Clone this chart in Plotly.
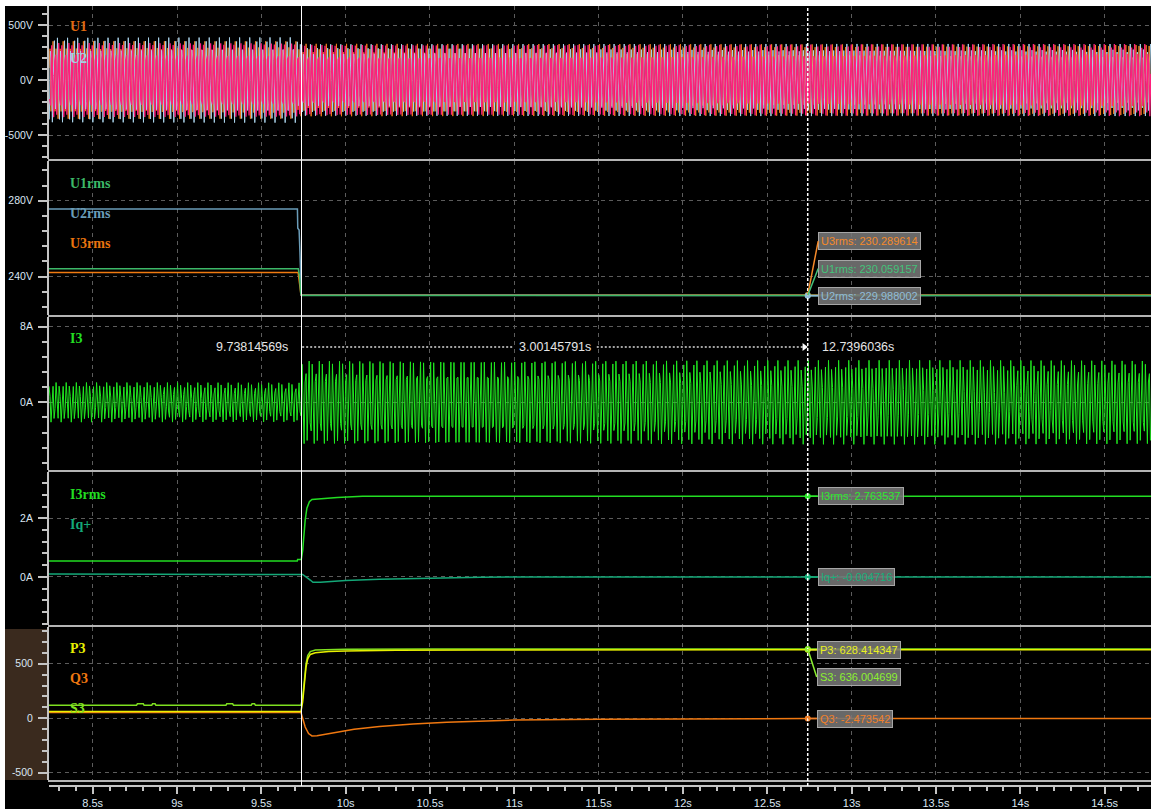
import numpy as np
import plotly.graph_objects as go

W, H = 1151, 809
T_START, T_END = 8.241, 14.775
F_LINE = 50.0

# ---------------- cursors ----------------
cursor_times = [9.73814569, 12.7396036]
cursor_texts = ["9.73814569s", "3.00145791s", "12.7396036s"]

# ---------------- panel 1 : instantaneous voltages ----------------
u_names = ["U1", "U2", "U3"]
u_peak_before = [352.0, 392.0, 345.0]
u_peak_after = [330.0, 328.0, 332.0]
u_step_time = [9.719, 9.714, 9.718]
u_phase = [0.0, -1 / 3, 1 / 3]
u_colors = ["#f07a1e", "#a9d2ea", "#ff1f7c"]

# ---------------- panel 2 : rms voltages ----------------
u3rms_t = [8.241, 9.718, 9.727, 9.735, 14.775]
u3rms_v = [242.2, 242.2, 236.0, 230.3, 230.29]
u2rms_t = [8.241, 9.714, 9.716, 9.724, 9.729, 9.737, 14.775]
u2rms_v = [275.6, 275.6, 265.5, 264.5, 253.0, 230.2, 229.99]
u1rms_t = [8.241, 9.719, 9.726, 9.734, 9.740, 14.775]
u1rms_v = [244.2, 244.2, 240.5, 231.0, 230.06, 230.06]

# ---------------- panel 3 : I3 ----------------
i3_peak_before = 2.1
i3_peak_after = 4.45
i3_step_time = 9.737

# ---------------- panel 4 : I3rms, Iq+ ----------------
i3rms_t = [8.241, 9.713, 9.715, 9.737, 9.745, 9.749, 9.76, 9.77, 9.785, 9.80, 9.85, 9.95, 10.1, 14.775]
i3rms_v = [0.54, 0.54, 0.59, 0.59, 0.90, 1.25, 1.94, 2.35, 2.57, 2.65, 2.68, 2.72, 2.76, 2.76]
iq_t = [8.241, 9.737, 9.745, 9.79, 9.806, 9.85, 9.9, 10.0, 10.2, 10.5, 10.8, 11.0, 14.775]
iq_v = [0.10, 0.10, 0.08, -0.11, -0.19, -0.19, -0.17, -0.13, -0.08, -0.04, -0.015, -0.006, -0.005]

# ---------------- panel 5 : P3, Q3, S3 ----------------
q3_t = [8.241, 9.735, 9.745, 9.76, 9.78, 9.80, 9.83, 9.87, 9.95, 10.05, 10.2, 10.4, 10.6, 10.8, 11.0, 11.5, 12.0, 12.74, 14.775]
q3_v = [52, 52, 0, -80, -140, -162, -160, -148, -125, -100, -75, -52, -36, -24, -16, -8, -4, -2.5, -2]
s3_t = [8.241, 8.76, 8.765, 8.80, 8.805, 8.85, 8.855, 8.87, 8.875, 9.29, 9.295, 9.33, 9.335, 9.44, 9.445,
        9.46, 9.465, 9.735, 9.745, 9.755, 9.765, 9.775, 9.79, 9.82, 9.9, 10.0, 10.5, 12.74, 14.775]
s3_v = [119, 119, 133, 133, 119, 119, 133, 133, 119, 119, 133, 133, 119, 119, 133,
        133, 119, 119, 190, 360, 500, 575, 612, 625, 630, 632, 635, 636, 636]
p3_t = [8.241, 9.735, 9.745, 9.755, 9.765, 9.775, 9.79, 9.82, 9.9, 10.0, 10.3, 10.8, 12.74, 14.775]
p3_v = [62, 62, 150, 330, 470, 545, 585, 600, 612, 618, 624, 627, 628.4, 628]

# ---------------- cursor read-outs ----------------
readout_names = ["U3rms", "U1rms", "U2rms", "I3rms", "Iq+", "P3", "S3", "Q3"]
readout_values = [230.289614, 230.059157, 229.988002, 2.763537, -0.004716, 628.414347, 636.004699, -2.473542]
readout_axes = ["y2", "y2", "y2", "y4", "y4", "y5", "y5", "y5"]
readout_colors = ["#f58a2a", "#44c27a", "#8fbcd8", "#2ee82e", "#16b07a", "#e8f020", "#8cf030", "#f0802a"]
readout_offsets = [(10.5, -54), (10.5, -27), (10.5, 0), (10, 0), (10, 0), (9, 0), (9, 28), (9, 0)]

# ---------------- panel definitions ----------------
panels = [  # (top px, bottom px, range, tickvals, ticktext, minor dtick)
    (6, 159, [-718, 673], [-500, 0, 500], ["-500V", "0V", "500V"], 100),
    (161, 315, [219.8, 300.9], [240, 280], ["240V", "280V"], 8),
    (317, 470, [-7.16, 9.03], [0, 8], ["0A", "8A"], 1.6),
    (472, 625, [-1.65, 3.59], [0, 2], ["0A", "2A"], 0.4),
    (627, 780, [-566, 837], [-500, 0, 500], ["-500", "0", "500"], 100),
]
panel_labels = [
    [("U1", "#e06a10", 27), ("U2", "#a9cde3", 58)],
    [("U1rms", "#3cb868", 183), ("U2rms", "#6a9cb8", 213), ("U3rms", "#e8740e", 243)],
    [("I3", "#22dd22", 338)],
    [("I3rms", "#22dd22", 494), ("Iq+", "#14a878", 524)],
    [("P3", "#e8f000", 648), ("Q3", "#f07810", 678), ("S3", "#7fe020", 708)],
]


def sampled_wave(peak_before, peak_after, t_step, phase, delta, t_off):
    fs = F_LINE / delta
    t = np.arange(T_START + t_off / fs, T_END, 1 / fs)
    amp = np.where(t < t_step, peak_before, peak_after)
    return t, amp * np.sin(2 * np.pi * (F_LINE * t + phase))


fig = go.Figure()

# panel 1 waves
u_widths = [1, 1, 1.3]
for k in range(3):
    t, y = sampled_wave(u_peak_before[k], u_peak_after[k], u_step_time[k], u_phase[k], 0.30004, k / 3)
    fig.add_trace(go.Scatter(x=t, y=y, mode="lines", line=dict(color=u_colors[k], width=u_widths[k]),
                             xaxis="x", yaxis="y", hoverinfo="skip"))

# panel 2
for tt, vv, col in [(u3rms_t, u3rms_v, "#f07a10"), (u2rms_t, u2rms_v, "#6a9cb8"), (u1rms_t, u1rms_v, "#3cb868")]:
    fig.add_trace(go.Scatter(x=tt, y=vv, mode="lines", line=dict(color=col, width=1.5), xaxis="x", yaxis="y2"))

# panel 3
t, y = sampled_wave(i3_peak_before, i3_peak_after, i3_step_time, 0.1, 0.30012, 0)
fig.add_trace(go.Scatter(x=t, y=y, mode="lines", line=dict(color="#20e820", width=1), xaxis="x", yaxis="y3"))

# panel 4
fig.add_trace(go.Scatter(x=iq_t, y=iq_v, mode="lines", line=dict(color="#14a878", width=1.5), xaxis="x", yaxis="y4"))
fig.add_trace(go.Scatter(x=i3rms_t, y=i3rms_v, mode="lines", line=dict(color="#22dd22", width=1.5), xaxis="x", yaxis="y4"))

# panel 5
fig.add_trace(go.Scatter(x=q3_t, y=q3_v, mode="lines", line=dict(color="#f07810", width=1.5), xaxis="x", yaxis="y5"))
fig.add_trace(go.Scatter(x=s3_t, y=s3_v, mode="lines", line=dict(color="#7fe020", width=1.5), xaxis="x", yaxis="y5"))
fig.add_trace(go.Scatter(x=p3_t, y=p3_v, mode="lines", line=dict(color="#e8f000", width=1.5), xaxis="x", yaxis="y5"))

# cursor points
for v, ax_, col in zip(readout_values, readout_axes, readout_colors):
    fig.add_trace(go.Scatter(x=[cursor_times[1]], y=[v], mode="markers",
                             marker=dict(color=col, size=6), xaxis="x", yaxis=ax_))

# measurement arrow in panel 3
meas_y = 5.85
mid = (cursor_times[0] + cursor_times[1]) / 2
gap = 0.25
dash_col = "#d8d8d8"
fig.add_trace(go.Scatter(x=[cursor_times[0] + 0.004, mid - gap], y=[meas_y, meas_y], mode="lines",
                         line=dict(color=dash_col, width=1.5, dash="2px,2px"), xaxis="x", yaxis="y3"))
fig.add_trace(go.Scatter(x=[mid + gap, cursor_times[1] - 0.03], y=[meas_y, meas_y], mode="lines",
                         line=dict(color=dash_col, width=1.5, dash="2px,2px"), xaxis="x", yaxis="y3"))
fig.add_trace(go.Scatter(x=[cursor_times[1] - 0.02], y=[meas_y], mode="markers",
                         marker=dict(symbol="triangle-right", size=7, color="white"), xaxis="x", yaxis="y3"))

axis_col = "#c4c4c4"
grid_col = "#5c5c5c"
tick_font_y = dict(family="Liberation Sans, Arial, sans-serif", size=10.5, color="#dbe6f2")
tick_font_x = dict(family="Liberation Sans, Arial, sans-serif", size=11, color="#dbe6f2")

layout = dict(width=W, height=H, margin=dict(l=0, r=0, t=0, b=0), paper_bgcolor="black",
              plot_bgcolor="rgba(0,0,0,0)", showlegend=False, template="none", hovermode=False)

layout["xaxis"] = dict(domain=[49 / W, 1], range=[T_START, T_END], anchor="free", position=1 - 786 / H,
                       showline=True, linecolor=axis_col, linewidth=2, ticks="outside", ticklen=7,
                       tickcolor=axis_col, tickwidth=1.5, tickmode="linear", tick0=0, dtick=0.5,
                       ticksuffix="s", tickfont=tick_font_x, showgrid=True, gridcolor=grid_col,
                       griddash="4px,4px", gridwidth=1, zeroline=False, automargin=False,
                       minor=dict(ticks="outside", ticklen=4, tickcolor=axis_col, tickwidth=1.5,
                                  tickmode="linear", tick0=0, dtick=0.1, showgrid=False))

for i, (top, bot, rng, tv, tt, mdt) in enumerate(panels):
    name = "yaxis" if i == 0 else f"yaxis{i + 1}"
    layout[name] = dict(domain=[1 - bot / H, 1 - top / H], range=rng, anchor="x",
                        showline=True, linecolor=axis_col, linewidth=2, ticks="outside", ticklen=9,
                        tickcolor=axis_col, tickwidth=1.5, tickmode="array", tickvals=tv, ticktext=tt,
                        tickfont=tick_font_y, showgrid=True, gridcolor=grid_col, griddash="4px,4px",
                        gridwidth=1, zeroline=False, automargin=False, ticklabelstandoff=3,
                        minor=dict(ticks="outside", ticklen=5, tickcolor=axis_col, tickwidth=1.5,
                                   tickmode="linear", tick0=0, dtick=mdt, showgrid=False))

shapes = []
# white frame strips (top / left)
shapes.append(dict(type="rect", xref="paper", yref="paper", x0=0, x1=1, y0=1 - 6 / H, y1=1,
                   fillcolor="white", line=dict(width=0), layer="above"))
shapes.append(dict(type="rect", xref="paper", yref="paper", x0=0, x1=5 / W, y0=0, y1=1,
                   fillcolor="white", line=dict(width=0), layer="above"))
# brown label background for the power panel
shapes.append(dict(type="rect", xref="paper", yref="paper", x0=5 / W, x1=48 / W, y0=1 - 780 / H,
                   y1=1 - 629 / H, fillcolor="#3a2a1e", line=dict(width=0), layer="below"))
# panel separators
for py in [160, 316, 471, 626, 781]:
    shapes.append(dict(type="line", xref="paper", yref="paper", x0=48 / W, x1=1, y0=1 - py / H,
                       y1=1 - py / H, line=dict(color="#b4b4b4", width=2), layer="above"))
# cursors
shapes.append(dict(type="line", xref="x", yref="paper", x0=cursor_times[0], x1=cursor_times[0],
                   y0=1 - 786 / H, y1=1 - 6 / H, line=dict(color="white", width=1), layer="above"))
shapes.append(dict(type="line", xref="x", yref="paper", x0=cursor_times[1], x1=cursor_times[1],
                   y0=1 - 786 / H, y1=1 - 6 / H, line=dict(color="white", width=1.5, dash="3px,2px"),
                   layer="above"))
layout["shapes"] = shapes

annotations = []
for group in panel_labels:
    for txt, col, py in group:
        annotations.append(dict(text=txt, xref="paper", yref="paper", x=68 / W, y=1 - py / H,
                                xanchor="left", yanchor="middle", showarrow=False,
                                font=dict(family="Liberation Serif, DejaVu Serif, serif", size=14,
                                          color=col, weight="bold")))
meas_font = dict(family="Liberation Sans, Arial, sans-serif", size=12.5, color="#e6e6e6")
annotations.append(dict(text=cursor_texts[0], xref="x", yref="y3", x=cursor_times[0], y=meas_y,
                        xanchor="right", yanchor="middle", xshift=-12, showarrow=False, font=meas_font))
annotations.append(dict(text=cursor_texts[1], xref="x", yref="y3", x=mid, y=meas_y,
                        xanchor="center", yanchor="middle", showarrow=False, font=meas_font))
annotations.append(dict(text=cursor_texts[2], xref="x", yref="y3", x=cursor_times[1], y=meas_y,
                        xanchor="left", yanchor="middle", xshift=12, showarrow=False, font=meas_font))

for nm, v, ax_, col, (dx, dy) in zip(readout_names, readout_values, readout_axes, readout_colors,
                                     readout_offsets):
    annotations.append(dict(text=f"{nm}: {v:.6f}", xref="x", yref=ax_, x=cursor_times[1], y=v,
                            ax=dx, ay=dy, xanchor="left", yanchor="middle", showarrow=True,
                            arrowhead=0, arrowwidth=1.5, arrowcolor=col,
                            bgcolor="rgba(118,118,118,0.88)", bordercolor="#a6a6a6", borderwidth=1,
                            borderpad=2,
                            font=dict(family="Liberation Sans, Arial, sans-serif", size=11, color=col)))
layout["annotations"] = annotations

fig.update_layout(**layout)
fig.write_html("out.html", config={"displayModeBar": False},
               post_script="document.body.style.margin='0px';document.body.style.overflow='hidden';")
